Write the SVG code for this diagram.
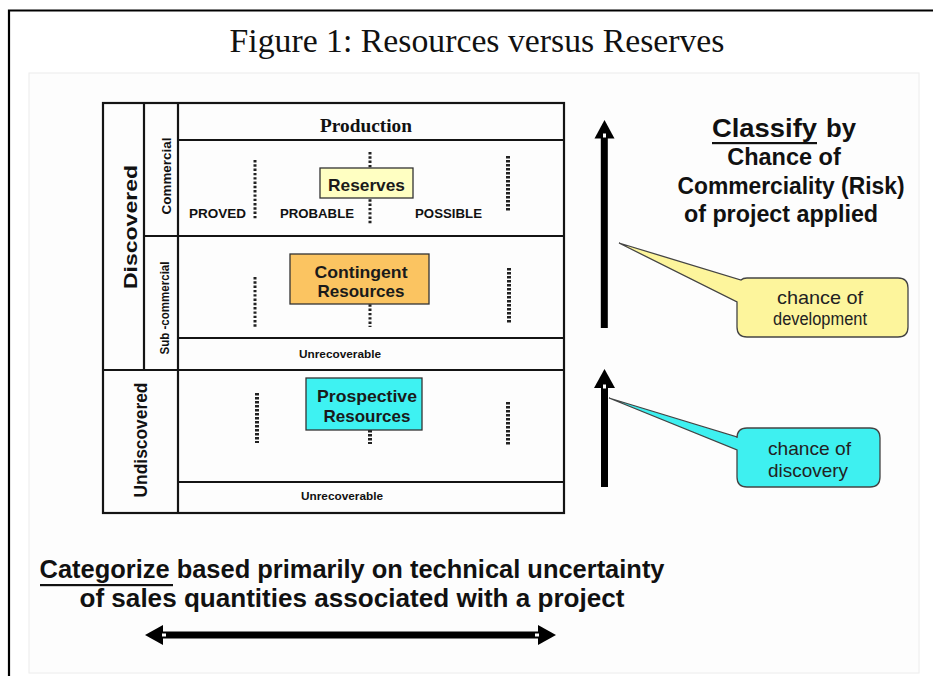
<svg xmlns="http://www.w3.org/2000/svg" width="933" height="676" viewBox="0 0 933 676">
  <style>
    .frame { fill: none; stroke: #000; stroke-width: 2.2; }
    .grid { fill: none; stroke: #141414; stroke-width: 2.2; }
    .sans { font-family: "Liberation Sans", Arial, sans-serif; }
    .bold { font-weight: bold; fill: #111; }
    .vlab { font-family: "Liberation Sans", Arial, sans-serif; font-weight: bold; fill: #111; text-anchor: middle; }
    .dots { stroke: #222; stroke-width: 3; stroke-dasharray: 2.4 1.9; fill: none; }
    .dots-heavy { stroke: #222; stroke-width: 4; stroke-dasharray: 2.4 1.6; fill: none; }
    .box { stroke: #333; stroke-width: 1.3; }
    .boxlabel { font-family: "Liberation Sans", Arial, sans-serif; font-weight: bold; font-size: 17px; fill: #1a1a1a; text-anchor: middle; }
    .call { stroke: #444; stroke-width: 1.3; }
    .calltext { font-family: "Liberation Sans", Arial, sans-serif; font-size: 18.5px; fill: #222; text-anchor: middle; }
    .headline { font-family: "Liberation Sans", Arial, sans-serif; font-weight: bold; fill: #111; text-anchor: middle; }
    .headline-start { font-family: "Liberation Sans", Arial, sans-serif; font-weight: bold; fill: #111; text-anchor: start; }
    .arrow { fill: #000; }
    .notch { fill: #fff; }
  </style>

  <!-- page frame and panel -->
  <g id="frame">
    <path class="frame" d="M9,676 V10.5 H933"/>
    <rect x="29" y="73" width="890" height="600" fill="#fdfdfd" stroke="#ececec" stroke-width="1"/>
    <text x="477" y="52" text-anchor="middle" font-family="'Liberation Serif', 'Times New Roman', serif" font-size="33" fill="#111" textLength="495" lengthAdjust="spacingAndGlyphs">Figure 1: Resources versus Reserves</text>
  </g>

  <!-- classification grid -->
  <g id="grid">
    <rect class="grid" x="103" y="103" width="461" height="410" fill="#fff"/>
    <line class="grid" x1="144" y1="103" x2="144" y2="370"/>
    <line class="grid" x1="178" y1="103" x2="178" y2="513"/>
    <line class="grid" x1="178" y1="140" x2="564" y2="140"/>
    <line class="grid" x1="144" y1="236" x2="564" y2="236"/>
    <line class="grid" x1="178" y1="338" x2="564" y2="338"/>
    <line class="grid" x1="103" y1="370" x2="564" y2="370"/>
    <line class="grid" x1="178" y1="482" x2="564" y2="482"/>

    <text x="366" y="132" text-anchor="middle" font-family="'Liberation Serif', 'Times New Roman', serif" font-weight="bold" font-size="18" fill="#111" textLength="92" lengthAdjust="spacingAndGlyphs">Production</text>

    <text class="vlab" font-size="19" transform="translate(137,227) rotate(-90)" textLength="124" lengthAdjust="spacingAndGlyphs">Discovered</text>
    <text class="vlab" font-size="19" transform="translate(147,440) rotate(-90)" textLength="115" lengthAdjust="spacingAndGlyphs">Undiscovered</text>
    <text class="vlab" font-size="13" transform="translate(171,176) rotate(-90)" textLength="77" lengthAdjust="spacingAndGlyphs">Commercial</text>
    <text class="vlab" font-size="12" transform="translate(169,308) rotate(-90)" textLength="93" lengthAdjust="spacingAndGlyphs">Sub -commercial</text>

    <text class="sans bold" x="189" y="218" font-size="13" textLength="57" lengthAdjust="spacingAndGlyphs">PROVED</text>
    <text class="sans bold" x="280" y="218" font-size="13" textLength="74" lengthAdjust="spacingAndGlyphs">PROBABLE</text>
    <text class="sans bold" x="415" y="218" font-size="13" textLength="67" lengthAdjust="spacingAndGlyphs">POSSIBLE</text>

    <text class="sans bold" x="340" y="358" font-size="11.5" text-anchor="middle" textLength="82" lengthAdjust="spacingAndGlyphs">Unrecoverable</text>
    <text class="sans bold" x="342" y="500" font-size="11.5" text-anchor="middle" textLength="82" lengthAdjust="spacingAndGlyphs">Unrecoverable</text>

    <!-- uncertainty boundaries -->
    <line class="dots" x1="255" y1="160" x2="255" y2="219"/>
    <line class="dots" x1="370" y1="152" x2="370" y2="224"/>
    <line class="dots-heavy" x1="508" y1="156" x2="508" y2="211"/>
    <line class="dots" x1="255" y1="277" x2="255" y2="327"/>
    <line class="dots" x1="370" y1="300" x2="370" y2="327"/>
    <line class="dots-heavy" x1="509" y1="268" x2="509" y2="323"/>
    <line class="dots-heavy" x1="257" y1="393" x2="257" y2="443"/>
    <line class="dots-heavy" x1="370" y1="426" x2="370" y2="444"/>
    <line class="dots-heavy" x1="508" y1="402" x2="508" y2="446"/>
  </g>

  <g id="reserves">
    <rect class="box" x="320" y="168" width="93" height="30" fill="#ffffc2"/>
    <text class="boxlabel" x="366.5" y="191" textLength="77" lengthAdjust="spacingAndGlyphs">Reserves</text>
  </g>

  <g id="contingent">
    <rect class="box" x="290" y="254" width="139" height="50" fill="#fbc461"/>
    <text class="boxlabel" x="361" y="278" textLength="93" lengthAdjust="spacingAndGlyphs">Contingent</text>
    <text class="boxlabel" x="361" y="297">Resources</text>
  </g>

  <g id="prospective">
    <rect class="box" x="306" y="378" width="116" height="52" fill="#3ef2f2"/>
    <text class="boxlabel" x="367" y="402" textLength="100" lengthAdjust="spacingAndGlyphs">Prospective</text>
    <text class="boxlabel" x="367" y="422">Resources</text>
  </g>

  <!-- risk axis and categorisation axis -->
  <g id="connectors">
    <g id="arrow-development">
      <rect class="arrow" x="600.8" y="137" width="7" height="191"/>
      <polygon class="arrow" points="604.5,120 614.5,138.5 594.5,138.5"/>
      <rect class="notch" x="603" y="133.5" width="3" height="4"/>
    </g>
    <g id="arrow-discovery">
      <rect class="arrow" x="601" y="387" width="7" height="100"/>
      <polygon class="arrow" points="604.5,369 615,388 594,388"/>
      <rect class="notch" x="603" y="384.5" width="3" height="4"/>
    </g>
    <g id="arrow-uncertainty">
      <rect class="arrow" x="161" y="631.5" width="380" height="7"/>
      <polygon class="arrow" points="145,635 163,625 163,645"/>
      <polygon class="arrow" points="556,635 538,625 538,645"/>
      <rect class="notch" x="162" y="633.5" width="4" height="3"/>
      <rect class="notch" x="535" y="633.5" width="4" height="3"/>
    </g>
  </g>

  <g id="callout-development">
    <path class="call" fill="#fdf59c" d="M747,278 H898 Q908,278 908,288 V327 Q908,337 898,337 H747 Q737,337 737,327 V302 L619,243 L741,280 Q743,278 747,278 Z"/>
    <text class="calltext" x="820" y="304" textLength="86" lengthAdjust="spacingAndGlyphs">chance of</text>
    <text class="calltext" x="820" y="325" style="font-size:17.5px" textLength="94" lengthAdjust="spacingAndGlyphs">development</text>
  </g>

  <g id="callout-discovery">
    <path class="call" fill="#3ef0f0" d="M747,428 H870 Q880,428 880,438 V477 Q880,487 870,487 H747 Q737,487 737,477 V450 L609,398 L737,437 V438 Q737,428 747,428 Z"/>
    <text class="calltext" x="809.5" y="455" textLength="83" lengthAdjust="spacingAndGlyphs">chance of</text>
    <text class="calltext" x="808" y="477" textLength="80" lengthAdjust="spacingAndGlyphs">discovery</text>
  </g>

  <g id="classify-note">
    <text class="headline-start" x="712" y="137" font-size="25" textLength="105" lengthAdjust="spacingAndGlyphs">Classify</text>
    <text class="headline-start" x="826" y="137" font-size="25" textLength="30" lengthAdjust="spacingAndGlyphs">by</text>
    <rect x="712" y="142" width="105" height="2.2" fill="#111"/>
    <text class="headline" x="784" y="165" font-size="23.5">Chance of</text>
    <text class="headline" x="791" y="194" font-size="23" textLength="227" lengthAdjust="spacingAndGlyphs">Commerciality (Risk)</text>
    <text class="headline" x="781" y="222" font-size="23.3">of project applied</text>
  </g>

  <g id="categorize-note">
    <text class="headline" x="352" y="578" font-size="25" textLength="625" lengthAdjust="spacingAndGlyphs">Categorize based primarily on technical uncertainty</text>
    <rect x="40" y="584" width="133" height="2.2" fill="#111"/>
    <text class="headline" x="352" y="607" font-size="25" textLength="545" lengthAdjust="spacingAndGlyphs">of sales quantities associated with a project</text>
  </g>
</svg>
